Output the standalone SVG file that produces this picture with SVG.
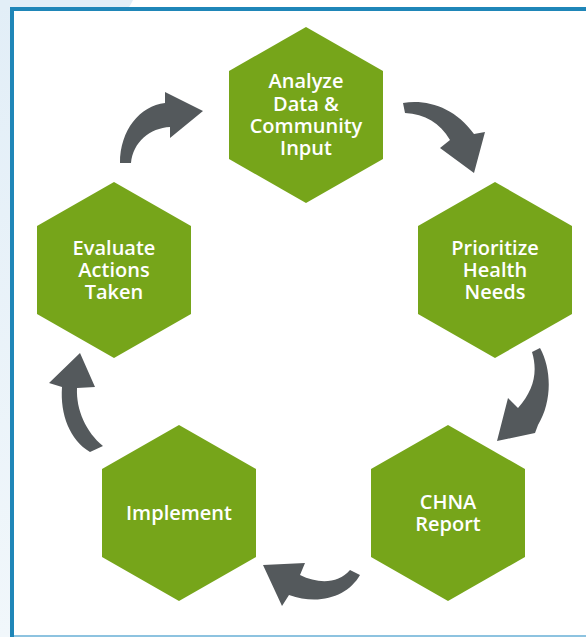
<svg xmlns="http://www.w3.org/2000/svg" width="586" height="637" viewBox="0 0 586 637">
<defs>
<linearGradient id="side" x1="0" y1="0" x2="0" y2="1">
<stop offset="0" stop-color="#e2eef7"/>
<stop offset="1" stop-color="#f1f7fb"/>
</linearGradient>
<style>
.hex{fill:#76a51a}
.lbl{fill:#ffffff;font-family:"Open Sans","Noto Sans",sans-serif;font-weight:600;font-size:20px;text-anchor:middle}
.arr{fill:#54595c}
</style>
</defs>
<rect x="0" y="0" width="586" height="637" fill="#ffffff"/>
<rect x="0" y="0" width="12" height="637" fill="url(#side)"/>
<path d="M0,0 L133,0 Q131,4 128,9 L0,9 Z" fill="#e2eef7"/>
<rect x="10" y="635" width="576" height="2" fill="#8dc3e0"/>
<path d="M12,637 L12,9 L586,9" fill="none" stroke="#1f86b8" stroke-width="4"/>

<g id="connectors">
<path class="arr" d="M120,163 C120,130 140,106 165,103 L165,92 L203,111 L170,138 L170,127 C150,128 133,142 131,163 Z"/>
<path class="arr" d="M403,103 C428,99 455,108 474,134 L485,132 L474,173 L440,148 L450,140 C440,123 425,114 405,113 Z"/>
<path class="arr" d="M532,352 L540,348 C552,370 552,402 538,425 L535,433 L497,441 L508,398 L518,408 C534,390 538,372 532,352 Z"/>
<path class="arr" d="M350,570 L360,575 C348,596 320,606 289,595 L282,606 L263,565 L305,563 L300,575 C318,584 338,584 350,570 Z"/>
<path class="arr" d="M80,353 L95,387 L77,388 C76,410 86,432 103,446 L90,452 C70,440 60,415 62,387 L49,383 Z"/>
</g>

<g id="analyze">
<polygon class="hex" points="306,27 383,71 383,159 306,203 229,159 229,71"/>
<text class="lbl" x="306" y="88">Analyze</text>
<text class="lbl" x="306" y="111">Data &amp;</text>
<text class="lbl" x="306" y="133">Community</text>
<text class="lbl" x="306" y="155">Input</text>
</g>
<g id="prioritize">
<polygon class="hex" points="495,182 572,226 572,314 495,358 418,314 418,226"/>
<text class="lbl" x="495" y="255">Prioritize</text>
<text class="lbl" x="495" y="277">Health</text>
<text class="lbl" x="495" y="299">Needs</text>
</g>
<g id="chna">
<polygon class="hex" points="448,425 525,469 525,557 448,601 371,557 371,469"/>
<text class="lbl" x="448" y="509">CHNA</text>
<text class="lbl" x="448" y="531">Report</text>
</g>
<g id="implement">
<polygon class="hex" points="179,425 256,469 256,557 179,601 102,557 102,469"/>
<text class="lbl" x="179" y="520">Implement</text>
</g>
<g id="evaluate">
<polygon class="hex" points="114,182 191,226 191,314 114,358 37,314 37,226"/>
<text class="lbl" x="114" y="255">Evaluate</text>
<text class="lbl" x="114" y="277">Actions</text>
<text class="lbl" x="114" y="299">Taken</text>
</g>
</svg>
